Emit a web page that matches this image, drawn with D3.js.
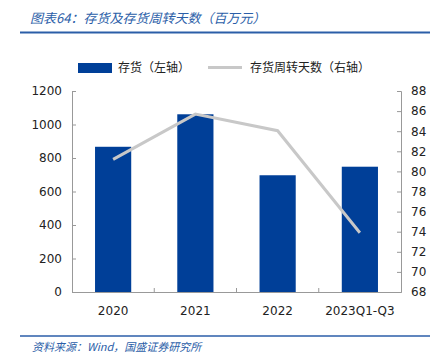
<!DOCTYPE html>
<meta charset="utf-8">
<style>
  body { margin: 0; background: #fff; }
  .tick text { font: 12px "DejaVu Sans", "Liberation Sans", sans-serif; fill: #222; }
  .cjk { font-family: "Noto Sans CJK SC", sans-serif; }
</style>
<svg width="435" height="364"></svg>
<script src="https://cdn.jsdelivr.net/npm/d3@7"></script>
<script>

    var categories = ["2020", "2021", "2022", "2023Q1-Q3"];
    var inventory = [867, 1061, 697, 748];          // 存货（左轴）
    var turnoverDays = [81.2, 85.7, 84.05, 73.9];   // 存货周转天数（右轴）
    var leftTicks = [0, 200, 400, 600, 800, 1000, 1200];
    var rightTicks = [68, 70, 72, 74, 76, 78, 80, 82, 84, 86, 88];

    var svg = d3.select("svg"),
        blue = "#003f98",
        grey = "#c8c8c8",
        titleBlue = "#2b5ea8";

    var plotL = 72, plotR = 401, plotT = 91, plotB = 292;

    var x = d3.scaleBand().domain(categories).range([plotL, plotR]).paddingInner(0.56).paddingOuter(0.28);
    var xc = d3.scaleBand().domain(categories).range([plotL, plotR]);
    var y = d3.scaleLinear().domain([0, 1200]).range([plotB, plotT]);
    var y2 = d3.scaleLinear().domain([68, 88]).range([plotB, plotT]);

    // title + rules
    svg.append("text").attr("class", "cjk")
        .attr("x", 30).attr("y", 23)
        .style("font-size", "13px").style("font-style", "italic")
        .attr("fill", titleBlue)
        .text("图表64：存货及存货周转天数（百万元）");
    svg.append("line").attr("x1", 20).attr("x2", 430).attr("y1", 32.5).attr("y2", 32.5)
        .attr("stroke", titleBlue).attr("stroke-width", 2);
    svg.append("line").attr("x1", 20).attr("x2", 430).attr("y1", 336).attr("y2", 336)
        .attr("stroke", titleBlue).attr("stroke-width", 1.5);
    svg.append("text").attr("class", "cjk")
        .attr("x", 32).attr("y", 351)
        .style("font-size", "11px").style("font-style", "italic")
        .attr("fill", titleBlue)
        .text("资料来源：Wind，国盛证券研究所");

    // legend
    svg.append("rect").attr("x", 78).attr("y", 63).attr("width", 34).attr("height", 10).attr("fill", blue);
    svg.append("text").attr("class", "cjk").attr("x", 118).attr("y", 72)
        .style("font-size", "12px").attr("fill", "#222").text("存货（左轴）");
    svg.append("line").attr("x1", 208).attr("x2", 242).attr("y1", 67.5).attr("y2", 67.5)
        .attr("stroke", grey).attr("stroke-width", 3);
    svg.append("text").attr("class", "cjk").attr("x", 250).attr("y", 72)
        .style("font-size", "12px").attr("fill", "#222").text("存货周转天数（右轴）");

    // axes
    var axisL = svg.append("g").attr("transform", "translate(" + plotL + ",0)")
        .call(d3.axisLeft(y).tickValues(leftTicks).tickFormat(d3.format("d")).tickSize(-4).tickPadding(10));
    var axisR = svg.append("g").attr("transform", "translate(" + plotR + ",0)")
        .call(d3.axisRight(y2).tickValues(rightTicks).tickSize(-4).tickPadding(10));
    var axisB = svg.append("g").attr("transform", "translate(0," + plotB + ")")
        .call(d3.axisBottom(xc).tickSize(0).tickPadding(14));
    [axisL, axisR].forEach(function (a) {
        a.select(".domain").attr("stroke", "#999");
        a.selectAll(".tick line").attr("stroke", "#999");
    });
    axisB.select(".domain").attr("stroke", "#999");
    // small category separators
    axisB.selectAll(".sep").data(categories.slice(1)).enter().append("line")
        .attr("x1", function (d) { return xc(d); }).attr("x2", function (d) { return xc(d); })
        .attr("y1", 0).attr("y2", -4).attr("stroke", "#999");

    // bars
    svg.append("g").selectAll("rect").data(inventory).enter().append("rect")
        .attr("x", function (d, i) { return x(categories[i]); })
        .attr("width", x.bandwidth())
        .attr("y", function (d) { return y(d); })
        .attr("height", function (d) { return plotB - y(d); })
        .attr("fill", blue);

    // line
    var line = d3.line()
        .x(function (d, i) { return xc(categories[i]) + xc.bandwidth() / 2; })
        .y(function (d) { return y2(d); });
    svg.append("path").datum(turnoverDays)
        .attr("d", line).attr("fill", "none")
        .attr("stroke", grey).attr("stroke-width", 3);

</script>
